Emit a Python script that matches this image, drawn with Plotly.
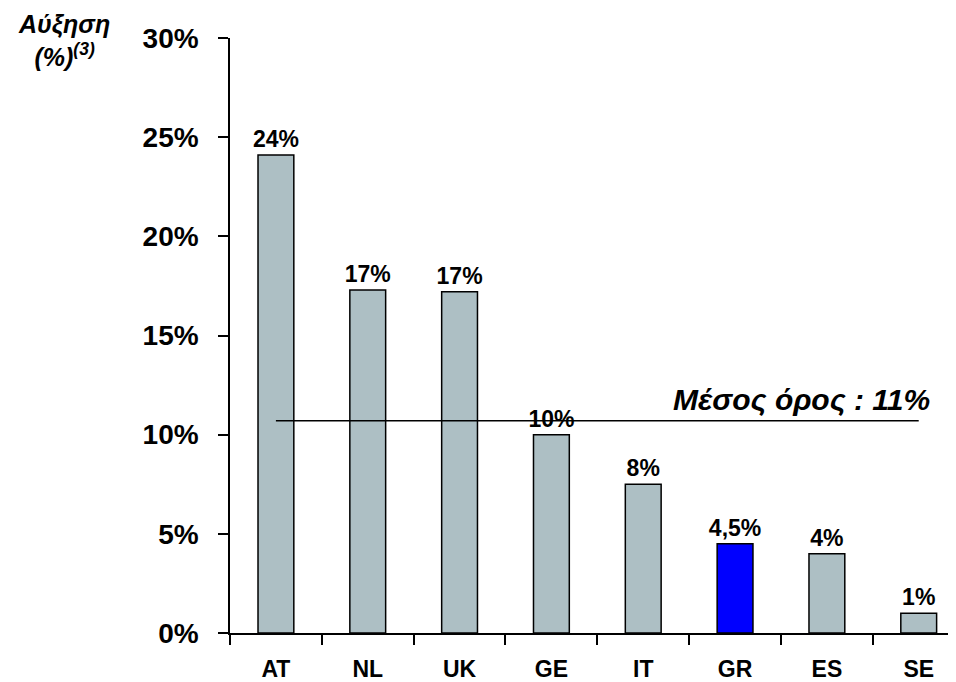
import plotly.graph_objects as go
import numpy as np

countries = ["AT", "NL", "UK", "GE", "IT", "GR", "ES", "SE"]
growth = [24.1, 17.3, 17.2, 10.0, 7.5, 4.5, 4.0, 1.0]
bar_labels = ["24%", "17%", "17%", "10%", "8%", "4,5%", "4%", "1%"]
highlight = "GR"
mean_label = "Μέσος όρος : 11%"
y_ticks = [0, 5, 10, 15, 20, 25, 30]
y_ticktext = ["0%", "5%", "10%", "15%", "20%", "25%", "30%"]

FONT = "Liberation Sans, Arial, sans-serif"
grey = "#ADBFC4"
blue = "#0000FF"
colors = [blue if c == highlight else grey for c in countries]

mean_val = float(np.mean(growth))

fig = go.Figure()
fig.add_trace(go.Bar(
    x=countries, y=growth, width=0.39,
    marker=dict(color=colors, line=dict(color="black", width=1.5)),
    text=bar_labels, textposition="outside", cliponaxis=False,
    constraintext="none", textangle=0,
    textfont=dict(family=FONT, size=23, color="black", weight="bold"),
    hoverinfo="skip",
))
fig.add_trace(go.Scatter(
    x=[countries[0], countries[-1]], y=[mean_val, mean_val],
    mode="lines", line=dict(color="black", width=1.5), hoverinfo="skip",
))
fig.add_annotation(
    x=countries[-1], y=mean_val, xref="x", yref="y",
    text="<i>" + mean_label + "</i>", showarrow=False,
    xanchor="right", yanchor="bottom", xshift=13, yshift=3,
    font=dict(family=FONT, size=30, color="black", weight="bold", style="italic"),
)
fig.add_annotation(
    x=(64 - 230) / 726, y=1 + 30 / 595, xref="paper", yref="paper",
    text="<i>Αύξηση<br>(%)<sup>(3)</sup></i>", showarrow=False,
    xanchor="center", yanchor="top", align="center",
    font=dict(family=FONT, size=25, color="black", weight="bold", style="italic"),
)

fig.update_layout(
    width=948, height=674,
    margin=dict(l=222, r=0, t=30, b=49),
    paper_bgcolor="white", plot_bgcolor="white",
    showlegend=False,
    xaxis=dict(
        type="category", range=[-0.5, 7.406],
        showline=True, linecolor="black", linewidth=1.5,
        ticks="outside", tickson="boundaries", ticklen=10, tickwidth=1.5, tickcolor="black",
        tickfont=dict(family=FONT, size=23, color="black", weight="bold"),
        ticklabelstandoff=15,
        showgrid=False, zeroline=False,
    ),
    yaxis=dict(
        range=[0, 30], tickmode="array", tickvals=y_ticks, ticktext=y_ticktext,
        showline=True, linecolor="black", linewidth=1.5,
        ticks="outside", ticklen=10, tickwidth=1.5, tickcolor="black",
        tickfont=dict(family=FONT, size=28, color="black", weight="bold"),
        ticklabelstandoff=14,
        showgrid=False, zeroline=False,
    ),
)

fig.write_html("out.html")
